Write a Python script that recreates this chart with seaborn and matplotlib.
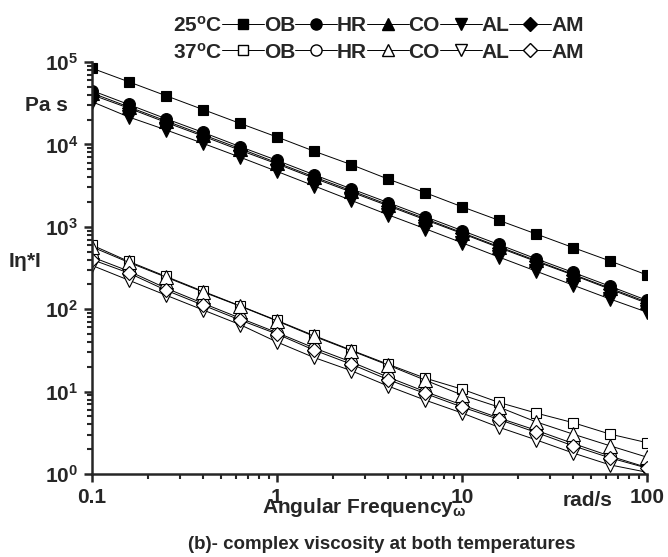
import matplotlib
matplotlib.use("Agg")
import matplotlib.pyplot as plt
from matplotlib.lines import Line2D
from matplotlib.ticker import LogLocator, NullFormatter, FixedLocator, FixedFormatter
import seaborn as sns

# angular frequency (rad/s), 5 points per decade
freq = [0.1, 0.158, 0.251, 0.398, 0.631, 1, 1.58, 2.51, 3.98, 6.31,
        10, 15.8, 25.1, 39.8, 63.1, 100]

# complex viscosity |eta*| (Pa s) at 25 C
ob_25 = [84000, 57500, 39000, 26500, 18000, 12300, 8300, 5700, 3800, 2600,
         1750, 1200, 820, 560, 385, 260]
hr_25 = [45000, 30500, 20500, 14000, 9400, 6400, 4300, 2900, 1970, 1330,
         900, 610, 410, 280, 190, 128]
co_25 = [42000, 28500, 19300, 13100, 8900, 6000, 4050, 2750, 1860, 1260,
         850, 575, 390, 265, 180, 122]
al_25 = [33000, 21500, 15000, 10300, 7000, 4700, 3150, 2100, 1400, 950,
         640, 430, 290, 196, 133, 92]
am_25 = [40000, 27500, 18500, 12600, 8500, 5800, 3900, 2650, 1800, 1220,
         830, 560, 380, 260, 175, 118]

# complex viscosity |eta*| (Pa s) at 37 C
ob_37 = [600, 380, 250, 165, 110, 73, 48, 32, 21.5, 14.6,
         10.7, 7.4, 5.5, 4.2, 3.05, 2.4]
hr_37 = [430, 290, 180, 118, 78, 52, 34, 23, 15, 10,
         6.9, 4.8, 3.4, 2.35, 1.65, 1.2]
co_37 = [570, 370, 245, 162, 109, 72, 47, 31.5, 21, 13.8,
         9.1, 6.5, 4.3, 3.05, 2.2, 1.6]
al_37 = [340, 225, 148, 98, 65, 40, 26, 18, 11.7, 7.9,
         5.5, 3.7, 2.6, 1.8, 1.29, 1.05]
am_37 = [400, 275, 170, 112, 74, 50, 32, 21.6, 14, 9.5,
         6.5, 4.6, 3.2, 2.2, 1.57, 1.18]

names = ["OB", "HR", "CO", "AL", "AM"]
markers = ["s", "o", "^", "v", "D"]
msizes = [7.5, 8.5, 9.5, 9.5, 7.5]
series_25 = [ob_25, hr_25, co_25, al_25, am_25]
series_37 = [ob_37, hr_37, co_37, al_37, am_37]

sns.set_style("ticks")
plt.rcParams["font.family"] = ["Liberation Sans", "DejaVu Sans"]
plt.rcParams["font.weight"] = "bold"
plt.rcParams["mathtext.fontset"] = "custom"
plt.rcParams["mathtext.rm"] = "Liberation Sans:bold"
plt.rcParams["mathtext.bf"] = "Liberation Sans:bold"
plt.rcParams["mathtext.it"] = "Liberation Sans:bold"

fig = plt.figure(figsize=(6.68, 5.57), dpi=100)
ax = fig.add_axes([0.1377, 0.149, 0.9686 - 0.1377, 0.8887 - 0.149])

for vals, m, ms in zip(series_25, markers, msizes):
    sns.lineplot(x=freq, y=vals, ax=ax, color="black", lw=0.7, marker=m,
                 markersize=ms, markerfacecolor="black",
                 markeredgecolor="black", markeredgewidth=0.8)
for vals, m, ms in zip(series_37, markers, msizes):
    sns.lineplot(x=freq, y=vals, ax=ax, color="black", lw=0.7, marker=m,
                 markersize=ms, markerfacecolor="white",
                 markeredgecolor="black", markeredgewidth=0.8)

ax.set_xscale("log")
ax.set_yscale("log")
ax.set_xlim(0.1, 100)
ax.set_ylim(1, 1e5)

for s in ["top", "right"]:
    ax.spines[s].set_visible(False)
for s in ["left", "bottom"]:
    ax.spines[s].set_linewidth(1.8)

ax.xaxis.set_major_locator(FixedLocator([0.1, 1, 10, 100]))
ax.xaxis.set_major_formatter(FixedFormatter(["0.1", "1", "10", "100"]))
ax.xaxis.set_minor_locator(LogLocator(base=10, subs=range(2, 10)))
ax.xaxis.set_minor_formatter(NullFormatter())
ax.yaxis.set_major_locator(LogLocator(base=10, numticks=10))
ax.yaxis.set_minor_locator(LogLocator(base=10, subs=range(2, 10), numticks=10))
ax.yaxis.set_minor_formatter(NullFormatter())

ax.tick_params(which="major", direction="out", length=6, width=1.8,
               labelsize=15, pad=4)
ax.tick_params(which="minor", direction="out", length=3.5, width=1.5)
ax.set_xlabel("")
ax.set_ylabel("")
for lab in ax.get_xticklabels() + ax.get_yticklabels():
    lab.set_fontweight("bold")

# legend: temperature label column, then marker + sample name
blank = Line2D([], [], color="none")
handles = [blank, blank]
labels = ["25$^{\\mathdefault{o}}$C", "37$^{\\mathdefault{o}}$C"]
for n, m, ms in zip(names, markers, msizes):
    handles.append(Line2D([], [], color="black", lw=0.7, marker=m,
                          markersize=ms - 0.5, markerfacecolor="black",
                          markeredgecolor="black"))
    handles.append(Line2D([], [], color="black", lw=0.7, marker=m,
                          markersize=ms - 0.5, markerfacecolor="white",
                          markeredgecolor="black"))
    labels += [n, n]
fig.legend(handles, labels, ncol=6, loc="center", bbox_to_anchor=(0.535, 0.93),
           frameon=False, handlelength=2.0, handletextpad=0.0,
           columnspacing=0.0, labelspacing=0.35, borderpad=0,
           prop={"size": 15, "weight": "bold"})

fig.text(0.037, 0.811, "Pa s", fontsize=15, fontweight="bold", va="center")
fig.text(0.012, 0.530, "I$\\mathdefault{\\eta}$*I", fontsize=15,
         fontweight="bold", va="center")
fig.text(0.545, 0.088, "Angular Frequency$_{\\mathdefault{\\omega}}$",
         fontsize=15, fontweight="bold", ha="center", va="center")
fig.text(0.880, 0.102, "rad/s", fontsize=15, fontweight="bold",
         ha="center", va="center")
fig.text(0.572, 0.022, "(b)- complex viscosity at both temperatures",
         fontsize=13.5, fontweight="bold", ha="center", va="center")

fig.savefig("out.png", dpi=100)
